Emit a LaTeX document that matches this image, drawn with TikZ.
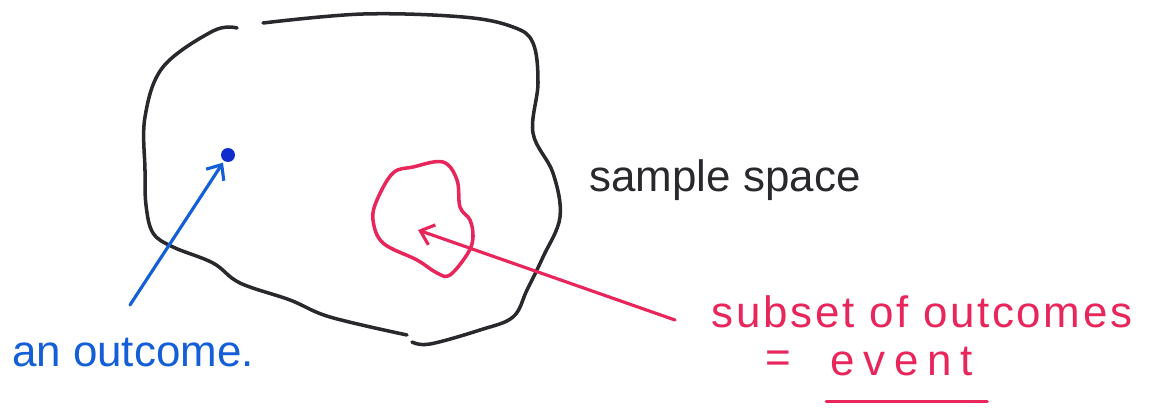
\documentclass[tikz,border=0pt]{standalone}
\usepackage{fontspec}
\setmainfont{Liberation Sans}
\usepackage{xcolor}
\usetikzlibrary{arrows.meta, positioning}

\definecolor{inkblack}{RGB}{40,40,45}
\definecolor{inkblue}{RGB}{20,95,215}
\definecolor{dotblue}{RGB}{15,45,205}
\definecolor{inkred}{RGB}{232,38,92}

\begin{document}
\begin{tikzpicture}[x=0.02cm, y=-0.02cm,
    outline/.style={line width=2pt, draw=inkblack, line cap=round},
    blob/.style={line width=2pt, draw=inkred, line cap=round},
    pen/.style={line width=1.8pt, line cap=round, -{Straight Barb[length=7pt,width=12pt]}},
    lbl/.style={font=\fontsize{25}{30}\selectfont, inner sep=0pt}
]
    \useasboundingbox (0,0) rectangle (1167,409);

    % SAMPLE SPACE: outline in two strokes
    \draw[outline] plot[smooth, tension=0.6] coordinates {
        (237,28) (213,31) (163,67) (145,117) (145,170) (146,205) (153,233)
        (173,247) (213,263) (240,283) (290,300) (330,317) (407,335)};
    \draw[outline] plot[smooth, tension=0.6] coordinates {
        (412,342) (430,344) (480,330) (513,317) (527,290) (543,257) (560,217)
        (553,173) (533,133) (538,83) (533,43) (513,27) (463,17) (363,14) (263,23)};
    \node (space) [lbl, text=inkblack] at (725,180) {sample space};

    % OUTCOME: one point
    \node (outcome) [circle, fill=dotblue, minimum size=0.28cm, inner sep=0pt] at (228,155) {};
    \node (outcomelbl) [lbl, text=inkblue] at (133,353) {an outcome.};
    \coordinate (outcometail) at (130,305);
    \draw[pen, draw=inkblue, shorten >=1pt] (outcometail) -- (outcome);

    % EVENT: subset of outcomes
    \draw[blob] plot[smooth cycle, tension=0.6] coordinates {
        (413,167) (443,162) (457,180) (460,207) (470,220) (473,237) (468,253)
        (450,275) (437,273) (417,260) (383,243) (373,220) (377,200) (393,173)};
    \coordinate (eventcentre) at (418,230);
    \coordinate (eventtail) at (675,320);
    \draw[pen, draw=inkred] (eventtail) -- (eventcentre);
    \node (subset) [lbl, text=inkred, font=\fontsize{25}{30}\selectfont\addfontfeature{LetterSpace=6}] at (922,312) {subset of outcomes};
    \node (equals) [lbl, text=inkred] at (778,362) {=};
    \node (event) [lbl, text=inkred, font=\fontsize{25}{30}\selectfont\addfontfeature{LetterSpace=20},
        right=22pt of equals.east, anchor=west] {event};
    \draw[line width=2pt, draw=inkred, line cap=round]
        ([xshift=-2pt, yshift=-14pt]event.south west) -- ([xshift=8pt, yshift=-14pt]event.south east);
\end{tikzpicture}
\end{document}
